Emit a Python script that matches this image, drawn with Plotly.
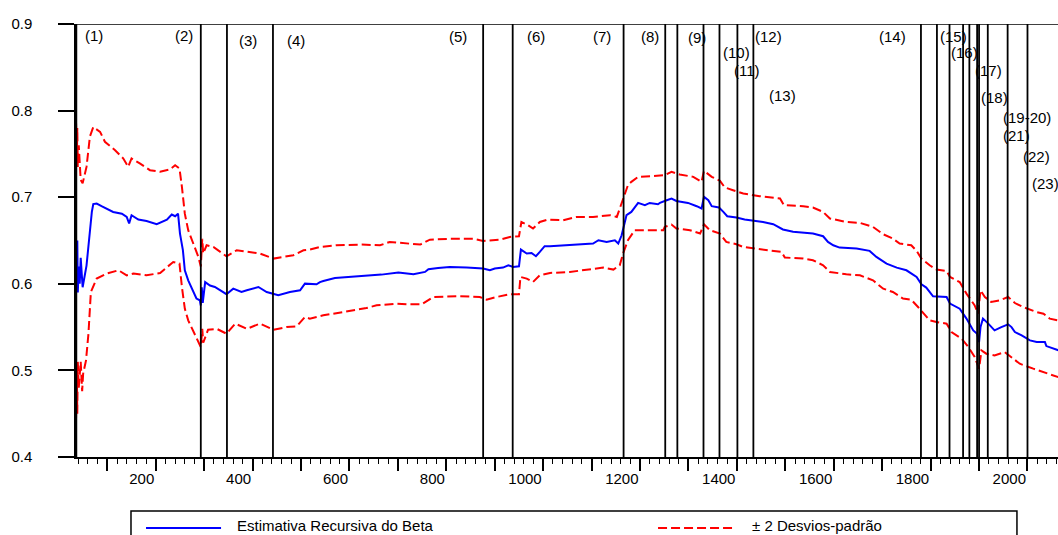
import plotly.graph_objects as go

# ---------------- data (observation number, value) ----------------
beta_x = [35, 37, 38, 39, 41, 43, 45, 49, 57, 63, 68, 71, 78, 88, 99, 112, 130, 140, 145, 150,
          164, 181, 202, 212, 223, 233, 240, 246, 250, 256, 260, 267, 277, 284, 291, 293, 295, 297,
          302, 312, 322, 333, 346, 360, 377, 388, 412, 429, 453, 477, 498, 508, 518, 532, 539, 546,
          570, 601, 628, 666, 701, 732, 756, 763, 783, 807, 842, 876, 890, 900, 917, 928, 938, 950,
          954, 966, 976, 985, 993, 1003, 1014, 1055, 1103, 1114, 1131, 1148, 1155, 1162, 1167, 1172,
          1182, 1196, 1210, 1220, 1237, 1241, 1255, 1265, 1275, 1299, 1317, 1327, 1332, 1341, 1348,
          1363, 1372, 1380, 1399, 1416, 1454, 1475, 1495, 1516, 1557, 1578, 1588, 1599, 1612, 1647,
          1674, 1688, 1709, 1730, 1750, 1771, 1781, 1791, 1805, 1833, 1840, 1860, 1874, 1888, 1896,
          1900, 1903, 1908, 1919, 1932, 1946, 1960, 1967, 1974, 1988, 2005, 2019, 2036, 2039, 2053,
          2063, 2070]
beta_y = [0.63, 0.59, 0.65, 0.59, 0.62, 0.60, 0.63, 0.596, 0.621, 0.658, 0.683, 0.692, 0.6927,
          0.6896, 0.687, 0.683, 0.681, 0.6772, 0.6696, 0.6792, 0.6742, 0.6726, 0.6688, 0.6714,
          0.674, 0.680, 0.678, 0.681, 0.658, 0.639, 0.6156, 0.604, 0.5905, 0.583, 0.581, 0.575,
          0.596, 0.578, 0.602, 0.598, 0.5963, 0.5925, 0.588, 0.5944, 0.5905, 0.5925, 0.5963,
          0.5905, 0.5867, 0.5905, 0.5925, 0.6002, 0.6002, 0.5994, 0.602, 0.6033, 0.6067, 0.6079,
          0.6087, 0.6106, 0.6129, 0.611, 0.6137, 0.6168, 0.6183, 0.6194, 0.6187, 0.6176, 0.6156,
          0.6176, 0.6187, 0.6214, 0.6194, 0.6202, 0.6395, 0.635, 0.6356, 0.6318, 0.6368, 0.6434,
          0.6434, 0.6445, 0.6465, 0.6503, 0.6483, 0.6503, 0.6465, 0.656, 0.6676, 0.6792, 0.683,
          0.6934, 0.6908, 0.6934, 0.6919, 0.6934, 0.6965, 0.6985, 0.6957, 0.6934, 0.6896, 0.687,
          0.7004, 0.6965, 0.6896, 0.6881, 0.683, 0.678, 0.6765, 0.6742, 0.6714, 0.6688, 0.6627,
          0.660, 0.658, 0.6549, 0.6483, 0.6445, 0.6418, 0.6407, 0.638, 0.631, 0.6233, 0.6187,
          0.6156, 0.6079, 0.5994, 0.5956, 0.5856, 0.5848, 0.5771, 0.5713, 0.5598, 0.5462, 0.5424,
          0.5327, 0.55, 0.5598, 0.554, 0.5462, 0.55, 0.5532, 0.55, 0.5443, 0.5405, 0.5347, 0.5327,
          0.5327, 0.5281, 0.525, 0.5231, 0.522]

upper_x = [35, 37, 38, 39, 41, 43, 45, 49, 57, 64, 71, 85, 95, 116, 133, 143, 150, 167, 188, 209,
           229, 240, 249, 254, 260, 267, 277, 288, 293, 296, 298, 305, 319, 346, 367, 388, 415, 443,
           484, 505, 518, 539, 573, 622, 663, 683, 725, 746, 766, 807, 855, 876, 911, 931, 950, 955,
           969, 979, 993, 1010, 1041, 1069, 1103, 1138, 1152, 1158, 1165, 1175, 1182, 1196, 1227,
           1251, 1265, 1282, 1310, 1327, 1332, 1348, 1365, 1375, 1392, 1413, 1447, 1489, 1497, 1537,
           1557, 1578, 1592, 1626, 1654, 1681, 1702, 1722, 1736, 1760, 1771, 1781, 1798, 1812, 1833,
           1840, 1860, 1874, 1891, 1898, 1903, 1912, 1925, 1943, 1960, 1974, 1991, 2019, 2033, 2046,
           2063, 2070]
upper_y = [0.80, 0.74, 0.78, 0.735, 0.76, 0.74, 0.72, 0.716, 0.735, 0.770, 0.781, 0.7755, 0.764,
           0.7543, 0.7447, 0.735, 0.7447, 0.739, 0.7312, 0.7293, 0.732, 0.737, 0.7332, 0.712, 0.681,
           0.6619, 0.6465, 0.631, 0.62, 0.652, 0.635, 0.6445, 0.6425, 0.6318, 0.6387, 0.6368, 0.635,
           0.6291, 0.633, 0.6387, 0.6395, 0.6425, 0.6445, 0.6453, 0.6445, 0.6483, 0.6465, 0.6453,
           0.651, 0.652, 0.652, 0.6495, 0.651, 0.6541, 0.6549, 0.6714, 0.6676, 0.6638, 0.6714,
           0.6742, 0.6734, 0.6772, 0.6772, 0.6792, 0.6772, 0.687, 0.6965, 0.7139, 0.7177, 0.7235,
           0.7243, 0.7254, 0.7293, 0.7262, 0.7235, 0.7177, 0.7304, 0.7235, 0.7189, 0.7112, 0.7081,
           0.7043, 0.7012, 0.6985, 0.6908, 0.6896, 0.6881, 0.683, 0.6754, 0.6714, 0.6703, 0.6657,
           0.6572, 0.6522, 0.6465, 0.6445, 0.638, 0.6291, 0.6214, 0.6164, 0.6148, 0.6079, 0.602,
           0.5887, 0.5751, 0.5655, 0.5925, 0.5848, 0.579, 0.581, 0.5848, 0.5778, 0.5732, 0.5674,
           0.5655, 0.5598, 0.5578, 0.557]

lower_x = [35, 37, 38, 39, 41, 45, 48, 50, 56, 61, 66, 78, 99, 123, 140, 154, 181, 209, 236, 249,
           254, 260, 267, 277, 288, 293, 296, 298, 308, 326, 346, 364, 388, 415, 443, 470, 491, 508,
           518, 546, 587, 635, 656, 697, 725, 749, 773, 828, 869, 883, 904, 931, 950, 953, 966, 979,
           993, 1014, 1055, 1097, 1124, 1145, 1158, 1165, 1175, 1189, 1206, 1248, 1251, 1265, 1275,
           1303, 1324, 1332, 1344, 1365, 1378, 1399, 1413, 1461, 1492, 1499, 1537, 1557, 1578, 1592,
           1626, 1654, 1681, 1702, 1722, 1743, 1760, 1774, 1798, 1812, 1833, 1843, 1864, 1878, 1891,
           1900, 1905, 1915, 1932, 1953, 1967, 1984, 2012, 2032, 2053, 2063, 2070]
lower_y = [0.43, 0.50, 0.45, 0.51, 0.48, 0.51, 0.476, 0.496, 0.5116, 0.5424, 0.5905, 0.606, 0.6118,
           0.6156, 0.6098, 0.6118, 0.6098, 0.6125, 0.6252, 0.6233, 0.5963, 0.5713, 0.5578, 0.5462,
           0.5347, 0.527, 0.548, 0.532, 0.547, 0.548, 0.5424, 0.554, 0.548, 0.554, 0.547, 0.550,
           0.5509, 0.5616, 0.5598, 0.5636, 0.5674, 0.572, 0.5751, 0.5771, 0.5763, 0.5763, 0.5848,
           0.5856, 0.5848, 0.5817, 0.5848, 0.5879, 0.5879, 0.6079, 0.606, 0.6021, 0.6098, 0.6125,
           0.6137, 0.6164, 0.6187, 0.6164, 0.6214, 0.635, 0.6503, 0.6619, 0.6619, 0.6619, 0.6657,
           0.6684, 0.6638, 0.6619, 0.658, 0.6688, 0.6619, 0.658, 0.6483, 0.6457, 0.6425, 0.6395,
           0.6368, 0.6303, 0.6291, 0.6272, 0.6214, 0.6137, 0.611, 0.6098, 0.604, 0.5944, 0.5905,
           0.583, 0.5817, 0.5732, 0.5578, 0.5558, 0.554, 0.5443, 0.5366, 0.5269, 0.5154, 0.502,
           0.5231, 0.5193, 0.5173, 0.5212, 0.5154, 0.5077, 0.502, 0.4981, 0.4942, 0.4923, 0.491]

# break events (observation numbers) and their labels
event_x = [36, 293, 347, 442, 876, 937, 1166, 1252, 1277, 1331, 1364, 1401, 1434,
           1780, 1813, 1839, 1867, 1880, 1896, 1900, 1918, 1959, 2000]
label_text = ["(1)", "(2)", "(3)", "(4)", "(5)", "(6)", "(7)", "(8)", "(9)", "(10)", "(11)",
              "(12)", "(13)", "(14)", "(15)", "(16)", "(17)", "(18)", "(19-20)", "(21)",
              "(22)", "(23)"]
label_x = [72, 259, 391, 490, 824, 985, 1122, 1220, 1318, 1399, 1420, 1465, 1494, 1721, 1848,
           1870, 1920, 1932, 2000, 1977, 2018, 2037]
label_y = [0.8873, 0.8873, 0.8815, 0.8815, 0.8850, 0.8850, 0.8850, 0.8850, 0.8840, 0.8673,
           0.8460, 0.8853, 0.8171, 0.8853, 0.8853, 0.8673, 0.8460, 0.8156, 0.7925, 0.7717,
           0.7474, 0.7162]

x_major = list(range(100, 2001, 100))
x_labels = [str(v) if v % 200 == 0 else "" for v in x_major]
y_ticks = [0.4, 0.5, 0.6, 0.7, 0.8, 0.9]

beta_name = "Estimativa Recursiva do Beta"
band_name = "± 2 Desvios-padrão"

FONT = "Arial, Liberation Sans, sans-serif"
FS = 15

fig = go.Figure()
fig.add_trace(go.Scatter(x=upper_x, y=upper_y, mode="lines", name=band_name,
                         line=dict(color="#ff0000", width=2, dash="9px,4px"), showlegend=False))
fig.add_trace(go.Scatter(x=lower_x, y=lower_y, mode="lines", name=band_name,
                         line=dict(color="#ff0000", width=2, dash="9px,4px"), showlegend=False))
fig.add_trace(go.Scatter(x=beta_x, y=beta_y, mode="lines", name=beta_name,
                         line=dict(color="#0000ff", width=2), showlegend=False))

shapes = []
for ex in event_x:
    shapes.append(dict(type="line", xref="x", yref="paper", x0=ex, x1=ex, y0=0, y1=1,
                       line=dict(color="black", width=1.8), layer="above"))
# top frame line at 0.9
shapes.append(dict(type="line", xref="paper", yref="y", x0=0, x1=1, y0=0.9, y1=0.9,
                   line=dict(color="black", width=1.5)))

# legend box (drawn manually)
shapes.append(dict(type="rect", xref="paper", yref="paper", x0=0.056, x1=0.9582,
                   y0=-0.30, y1=-0.1247, line=dict(color="black", width=1.5)))
shapes.append(dict(type="line", xref="paper", yref="paper", x0=0.0713, x1=0.1477,
                   y0=-0.164, y1=-0.164, line=dict(color="#0000ff", width=2)))
shapes.append(dict(type="line", xref="paper", yref="paper", x0=0.5927, x1=0.67,
                   y0=-0.164, y1=-0.164, line=dict(color="#ff0000", width=2, dash="9px,4px")))

annotations = []
for t, lx, ly in zip(label_text, label_x, label_y):
    annotations.append(dict(x=lx, y=ly, xref="x", yref="y", text=t, showarrow=False,
                            font=dict(family=FONT, size=FS, color="black"),
                            xanchor="center", yanchor="middle"))
annotations.append(dict(x=0.1619, y=-0.159, xref="paper", yref="paper", text=beta_name,
                        showarrow=False, xanchor="left", yanchor="middle",
                        font=dict(family=FONT, size=FS, color="black")))
annotations.append(dict(x=0.686, y=-0.159, xref="paper", yref="paper", text=band_name,
                        showarrow=False, xanchor="left", yanchor="middle",
                        font=dict(family=FONT, size=FS, color="black")))

fig.update_layout(
    width=1058, height=535,
    margin=dict(l=76, r=0, t=24, b=78, pad=0),
    paper_bgcolor="white", plot_bgcolor="white",
    font=dict(family=FONT, size=FS, color="black"),
    shapes=shapes, annotations=annotations,
    xaxis=dict(range=[35.3, 2063], showgrid=False, zeroline=False,
               showline=True, linecolor="black", linewidth=1.5,
               tickmode="array", tickvals=x_major, ticktext=x_labels,
               ticks="outside", ticklen=12, tickwidth=1.5, tickcolor="black",
               ticklabelposition="outside left", ticklabelstandoff=7,
               minor=dict(dtick=20, tick0=0, ticks="outside", ticklen=5, tickwidth=1.2,
                          tickcolor="black", showgrid=False)),
    yaxis=dict(range=[0.4, 0.9], showgrid=False, zeroline=False,
               showline=True, linecolor="black", linewidth=1.5,
               tickmode="array", tickvals=y_ticks, tickformat=".1f",
               ticks="outside", ticklen=16, tickwidth=1.5, tickcolor="black",
               ticklabelstandoff=23),
)

# remove the default page margin so the figure sits at the window's top-left corner
fig.write_html("out.html", config={"displayModeBar": False},
               post_script="document.body.style.margin='0';document.body.style.overflow='hidden';")
